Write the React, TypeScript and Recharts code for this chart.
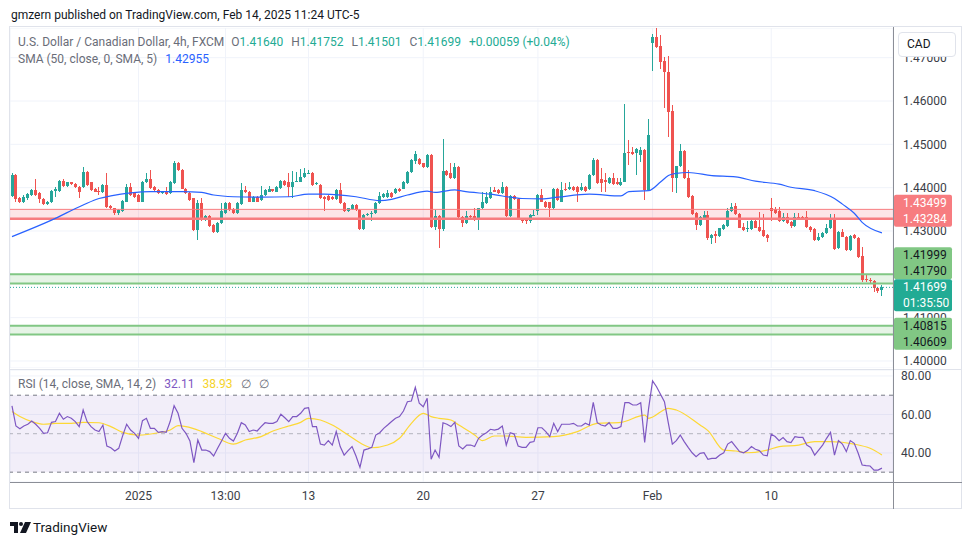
import React from 'react'
import {
  Bar,
  CartesianGrid,
  ComposedChart,
  Line,
  ReferenceArea,
  ReferenceLine,
  XAxis,
  YAxis,
} from 'recharts'

const FONT = 'Roboto, "Noto Sans", sans-serif'
const UP = '#26a69a'
const DOWN = '#ef5350'
const AXIS_TEXT = '#3b3e47'
const GRID = '#f0f3fa'

// USD/CAD 4h candles
const opens = [
  1.4381, 1.4429, 1.4377, 1.4367, 1.4375, 1.4383, 1.4395, 1.4388, 1.4373, 1.4362,
  1.4367, 1.4393, 1.4393, 1.4416, 1.4404, 1.4412, 1.4408, 1.4402, 1.4402, 1.4436,
  1.4412, 1.4398, 1.4393, 1.4389, 1.4406, 1.4358, 1.4352, 1.4341, 1.4345, 1.4368,
  1.4402, 1.4388, 1.4383, 1.4368, 1.4412, 1.4419, 1.4402, 1.4395, 1.4387, 1.4391,
  1.4387, 1.441, 1.4458, 1.4441, 1.4398, 1.4388, 1.4375, 1.4302, 1.4364, 1.4325,
  1.4335, 1.4314, 1.4298, 1.4318, 1.4342, 1.4365, 1.435, 1.4341, 1.4362, 1.4395,
  1.4391, 1.4368, 1.4378, 1.4372, 1.4383, 1.4391, 1.4396, 1.4391, 1.4399, 1.4416,
  1.4414, 1.4402, 1.4414, 1.4414, 1.4424, 1.4433, 1.4435, 1.4408, 1.4406, 1.4379,
  1.4381, 1.4379, 1.4373, 1.4395, 1.4365, 1.4345, 1.4351, 1.436, 1.4348, 1.4304,
  1.4337, 1.4339, 1.4341, 1.4365, 1.4379, 1.4379, 1.4387, 1.4388, 1.4398, 1.4398,
  1.441, 1.4437, 1.4462, 1.4466, 1.4456, 1.4447, 1.4475, 1.431, 1.4335, 1.4304,
  1.4438, 1.4433, 1.4422, 1.4448, 1.4333, 1.4318, 1.4335, 1.4335, 1.4325, 1.4352,
  1.4364, 1.4376, 1.4395, 1.4395, 1.4387, 1.4402, 1.4335, 1.4381, 1.4373, 1.4329,
  1.4325, 1.4322, 1.4336, 1.4345, 1.4383, 1.4368, 1.4366, 1.4352, 1.4398, 1.4368,
  1.4396, 1.4396, 1.4401, 1.4401, 1.4395, 1.4402, 1.4397, 1.443, 1.4464, 1.442,
  1.4418, 1.441, 1.4423, 1.4412, 1.4406, 1.4414, 1.4483, 1.4483, 1.4479, 1.4475,
  1.4487, 1.4395, 1.4733, 1.4748, 1.4728, 1.4692, 1.4666, 1.4577, 1.4422, 1.4449,
  1.4485, 1.4423, 1.4381, 1.4341, 1.4314, 1.4331, 1.4337, 1.4283, 1.4292, 1.4289,
  1.4305, 1.4312, 1.4345, 1.4358, 1.4339, 1.431, 1.4304, 1.4304, 1.4323, 1.431,
  1.4302, 1.4291, 1.4354, 1.435, 1.4345, 1.4323, 1.4333, 1.432, 1.4312, 1.4333,
  1.4332, 1.4333, 1.431, 1.4304, 1.4279, 1.4285, 1.4295, 1.4306, 1.4328, 1.426,
  1.4298, 1.4287, 1.4256, 1.4291, 1.4283, 1.4243, 1.4189, 1.4187, 1.4185, 1.4168,
  1.4164,
]

const highs = [
  1.4433, 1.4431, 1.4379, 1.4383, 1.4388, 1.4398, 1.4419, 1.439, 1.4375, 1.4369,
  1.4395, 1.4402, 1.4418, 1.4419, 1.4414, 1.4414, 1.441, 1.4404, 1.4448, 1.4438,
  1.4414, 1.44, 1.4402, 1.4408, 1.4433, 1.436, 1.4354, 1.435, 1.4371, 1.4408,
  1.441, 1.439, 1.4385, 1.4416, 1.4433, 1.4441, 1.4404, 1.4397, 1.4393, 1.4402,
  1.4416, 1.4461, 1.446, 1.4443, 1.44, 1.439, 1.4377, 1.4372, 1.4375, 1.4337,
  1.4337, 1.4316, 1.432, 1.4364, 1.4368, 1.4367, 1.4352, 1.4366, 1.441, 1.4404,
  1.4393, 1.438, 1.438, 1.4404, 1.4397, 1.4404, 1.4398, 1.4403, 1.4418, 1.4418,
  1.4435, 1.4439, 1.4437, 1.4442, 1.4445, 1.4441, 1.4437, 1.4413, 1.4408, 1.4381,
  1.4383, 1.4381, 1.4397, 1.441, 1.4367, 1.4354, 1.4362, 1.4362, 1.435, 1.4339,
  1.4341, 1.4345, 1.4367, 1.4391, 1.4387, 1.4395, 1.4389, 1.44, 1.44, 1.4416,
  1.4439, 1.4466, 1.4485, 1.4468, 1.4458, 1.4477, 1.4477, 1.4348, 1.4337, 1.4512,
  1.444, 1.4456, 1.4456, 1.445, 1.4335, 1.4347, 1.4337, 1.4352, 1.4354, 1.4391,
  1.4391, 1.4402, 1.4402, 1.4397, 1.4414, 1.4404, 1.4383, 1.4383, 1.4375, 1.4331,
  1.4327, 1.4339, 1.4348, 1.4385, 1.4398, 1.437, 1.4368, 1.44, 1.44, 1.4414,
  1.441, 1.4414, 1.4403, 1.4403, 1.441, 1.4404, 1.4432, 1.4468, 1.4466, 1.4445,
  1.4433, 1.4425, 1.4433, 1.4423, 1.4423, 1.4593, 1.451, 1.4495, 1.4491, 1.4495,
  1.4489, 1.4559, 1.4754, 1.4769, 1.4752, 1.4702, 1.4705, 1.4591, 1.4451, 1.4501,
  1.4487, 1.4441, 1.4383, 1.4343, 1.4335, 1.4345, 1.4345, 1.4293, 1.43, 1.4308,
  1.4316, 1.4352, 1.4364, 1.4364, 1.4341, 1.4318, 1.4322, 1.4325, 1.4329, 1.4343,
  1.4339, 1.4293, 1.4375, 1.4356, 1.4356, 1.4341, 1.4341, 1.4322, 1.4341, 1.4341,
  1.4334, 1.4345, 1.4312, 1.4306, 1.4295, 1.4297, 1.4315, 1.4339, 1.4339, 1.43,
  1.4305, 1.4289, 1.4291, 1.4293, 1.4285, 1.4262, 1.4199, 1.4191, 1.4187, 1.417,
  1.41752,
]

const lows = [
  1.4379, 1.4368, 1.4364, 1.4364, 1.4372, 1.438, 1.4381, 1.4364, 1.436, 1.436,
  1.4365, 1.4379, 1.4391, 1.4402, 1.4402, 1.4406, 1.4399, 1.4375, 1.44, 1.4404,
  1.4393, 1.4389, 1.4383, 1.4387, 1.4354, 1.435, 1.4338, 1.4338, 1.4343, 1.4366,
  1.4381, 1.4377, 1.4366, 1.4366, 1.441, 1.4398, 1.4393, 1.4385, 1.4385, 1.4383,
  1.4385, 1.4408, 1.4439, 1.4396, 1.4385, 1.437, 1.43, 1.4279, 1.4323, 1.4323,
  1.431, 1.4296, 1.4295, 1.4316, 1.434, 1.4346, 1.4339, 1.4339, 1.436, 1.4387,
  1.4366, 1.4366, 1.4366, 1.437, 1.4381, 1.4389, 1.4391, 1.4389, 1.4397, 1.4404,
  1.4379, 1.4375, 1.4412, 1.4412, 1.4422, 1.4431, 1.4404, 1.4406, 1.4373, 1.4345,
  1.437, 1.4371, 1.4371, 1.4362, 1.4343, 1.4343, 1.4349, 1.4346, 1.4302, 1.4302,
  1.4335, 1.4322, 1.4339, 1.4363, 1.4377, 1.4377, 1.4376, 1.4386, 1.4391, 1.4396,
  1.4408, 1.4435, 1.4455, 1.4453, 1.4446, 1.4445, 1.4308, 1.4302, 1.426, 1.43,
  1.4427, 1.442, 1.442, 1.433, 1.431, 1.4316, 1.433, 1.4323, 1.4302, 1.435,
  1.4362, 1.4374, 1.4389, 1.4385, 1.4385, 1.4333, 1.4333, 1.4371, 1.4327, 1.4318,
  1.4316, 1.4318, 1.4334, 1.4338, 1.4366, 1.4354, 1.4333, 1.435, 1.437, 1.4366,
  1.4392, 1.4394, 1.4393, 1.4368, 1.4393, 1.4391, 1.4395, 1.4428, 1.4408, 1.4391,
  1.4391, 1.4408, 1.4406, 1.4405, 1.4404, 1.4412, 1.4452, 1.4475, 1.443, 1.446,
  1.4372, 1.4393, 1.467, 1.4723, 1.4675, 1.4585, 1.4518, 1.4389, 1.4387, 1.4447,
  1.4421, 1.4377, 1.4337, 1.4302, 1.4312, 1.4329, 1.4279, 1.4269, 1.4272, 1.4287,
  1.4303, 1.431, 1.4343, 1.4337, 1.4306, 1.43, 1.4298, 1.4302, 1.4306, 1.4298,
  1.4287, 1.4274, 1.4322, 1.4339, 1.4321, 1.4321, 1.4316, 1.4306, 1.431, 1.4329,
  1.4329, 1.4308, 1.4298, 1.4277, 1.4277, 1.4283, 1.4293, 1.4304, 1.4256, 1.4258,
  1.4285, 1.4254, 1.4254, 1.4281, 1.4238, 1.4182, 1.4182, 1.418, 1.416, 1.4156,
  1.41501,
]

const closes = [
  1.4429, 1.4373, 1.4367, 1.4379, 1.4385, 1.4395, 1.4383, 1.4373, 1.4362, 1.4367,
  1.4392, 1.4398, 1.4416, 1.4404, 1.4412, 1.4408, 1.4401, 1.4391, 1.4436, 1.4406,
  1.4395, 1.4391, 1.4391, 1.4406, 1.4356, 1.4352, 1.4341, 1.4348, 1.4369, 1.4402,
  1.4383, 1.4379, 1.4368, 1.4414, 1.4419, 1.44, 1.4395, 1.4387, 1.4391, 1.4385,
  1.4414, 1.4458, 1.4441, 1.4398, 1.4387, 1.4372, 1.4302, 1.4364, 1.4325, 1.4335,
  1.4312, 1.4298, 1.4318, 1.4345, 1.4365, 1.4348, 1.4341, 1.4364, 1.4395, 1.4389,
  1.4368, 1.4378, 1.4368, 1.4383, 1.4395, 1.4397, 1.4393, 1.4401, 1.4416, 1.4406,
  1.4402, 1.4414, 1.4416, 1.4424, 1.4433, 1.4435, 1.4406, 1.4411, 1.4375, 1.4373,
  1.4372, 1.4373, 1.4395, 1.4364, 1.4345, 1.4352, 1.436, 1.4348, 1.4304, 1.4337,
  1.4339, 1.4342, 1.4365, 1.4381, 1.4385, 1.4387, 1.4378, 1.4398, 1.4393, 1.4414,
  1.4437, 1.4464, 1.4478, 1.4455, 1.4448, 1.4475, 1.431, 1.4335, 1.4304, 1.4438,
  1.4429, 1.4422, 1.4448, 1.4332, 1.4318, 1.4335, 1.4332, 1.4325, 1.4352, 1.4368,
  1.4379, 1.4391, 1.4391, 1.4387, 1.4401, 1.4335, 1.4381, 1.4373, 1.4329, 1.4322,
  1.4322, 1.4337, 1.4338, 1.4383, 1.4368, 1.4356, 1.4352, 1.4398, 1.4372, 1.4395,
  1.4394, 1.4402, 1.4395, 1.4391, 1.4402, 1.4393, 1.443, 1.4464, 1.441, 1.441,
  1.4414, 1.4423, 1.4408, 1.4408, 1.4414, 1.4481, 1.4479, 1.4477, 1.4489, 1.4487,
  1.4395, 1.4522, 1.4748, 1.4725, 1.4691, 1.4666, 1.4575, 1.4422, 1.4449, 1.4485,
  1.4423, 1.4379, 1.4339, 1.4314, 1.4333, 1.4337, 1.4283, 1.4291, 1.4289, 1.4306,
  1.4314, 1.4345, 1.4356, 1.4339, 1.4308, 1.4302, 1.4306, 1.4323, 1.4308, 1.43,
  1.4289, 1.4283, 1.4346, 1.4341, 1.4323, 1.4333, 1.4318, 1.4312, 1.4333, 1.4331,
  1.4331, 1.431, 1.4302, 1.4279, 1.4287, 1.4295, 1.4306, 1.4328, 1.4259, 1.4298,
  1.4287, 1.4256, 1.4289, 1.4283, 1.424, 1.4187, 1.4186, 1.4185, 1.4168, 1.4162,
  1.41699,
]

// SMA(50) points (candle index, value)
const smaIdx = [
  0, 10, 18, 22, 25, 30, 35, 43, 48, 51, 56, 63, 70, 75, 79, 87, 93, 96, 100, 105,
  107, 112, 114, 121, 129, 134, 138, 146, 154, 156, 161, 164, 166, 168, 171, 177, 183, 188, 194, 197,
  203, 208, 210, 213, 215, 220,
]
const smaVal = [
  1.4287, 1.4325, 1.436, 1.4375, 1.4381, 1.4388, 1.4391, 1.4391, 1.4389, 1.4383,
  1.4379, 1.4378, 1.4379, 1.4385, 1.4385, 1.4379, 1.437, 1.4373, 1.4383, 1.4392,
  1.4389, 1.4395, 1.4392, 1.4385, 1.4375, 1.4374, 1.4378, 1.4385, 1.4381, 1.4391,
  1.4393, 1.4413, 1.4428, 1.4433, 1.4435, 1.4428, 1.4425, 1.4415, 1.4408, 1.4401,
  1.4393, 1.4375, 1.4362, 1.4341, 1.432, 1.42955,
]

// RSI(14), one value per candle
const rsi = [
  64.4, 54, 52.6, 54, 54.9, 56.6, 54.9, 52.8, 50.2, 50.5,
  55.9, 56.3, 60.6, 57.5, 58.9, 58, 56.3, 53.7, 62.3, 56.3,
  53.7, 51.9, 51.1, 54.5, 43.6, 42.7, 41, 42.4, 49, 54.9,
  51.9, 50.2, 47.6, 56.8, 58, 52.8, 52.8, 50.7, 51.1, 50.7,
  56.3, 64.6, 60.6, 52.8, 50.2, 46.2, 35, 46.7, 41.5, 41.5,
  40.7, 38.4, 42.4, 46.2, 50.2, 47.6, 46.2, 50.2, 55.7, 54.5,
  51.1, 51.9, 51.4, 53.7, 55.7, 55.4, 55.4, 56.3, 60.1, 58.3,
  56.3, 58.9, 58.9, 60.6, 63.2, 63.5, 53.7, 53.7, 44.6, 44.1,
  46.4, 44.1, 51.1, 43.3, 38.9, 41.2, 43.3, 38.4, 32.5, 41.5,
  42.1, 42.9, 49.3, 50.5, 52.8, 54.5, 56.3, 58, 58.9, 61.8,
  66.6, 67, 74.1, 65.8, 64, 68.4, 36.7, 41.5, 37.7, 55.7,
  54.9, 53.7, 55.9, 43.6, 42.1, 44.1, 44.1, 43.3, 47.6, 49.3,
  50.5, 52.3, 51.9, 52.4, 54, 44.1, 50.5, 49.8, 43.6, 42.9,
  42.9, 45.5, 45.9, 53.1, 53.1, 51.1, 48.5, 55.4, 51.1, 54.9,
  54.9, 54.9, 55.4, 54, 54, 55.4, 54.5, 66.3, 55.7, 54.5,
  54, 55.7, 52.8, 52.8, 53.7, 66.1, 66.1, 64.9, 64.9, 66.1,
  45.5, 63.2, 77.4, 74.4, 70.5, 66.6, 55.4, 44.6, 46.4, 49.3,
  45.9, 42.9, 40.1, 38.1, 39.8, 40.1, 36.7, 37.2, 37.2, 38.9,
  40.1, 44.6, 45.9, 43.3, 40.7, 40.1, 41.2, 43.3, 41.9, 41.2,
  38.9, 38.5, 49.7, 48.5, 46.4, 48, 45.9, 45.4, 48.5, 48.1,
  48.1, 44.1, 42.9, 38.9, 41.5, 44.1, 47.6, 50.7, 38.9, 46.4,
  44.6, 40.7, 46.4, 45, 39.8, 33.7, 33.4, 33.2, 31.1, 31.1,
  32.11,
]

// RSI-based SMA points (candle index, value)
const rsiMaIdx = [
  0, 2, 5, 8, 11, 15, 18, 22, 25, 28, 32, 37, 40, 42, 44, 48, 52, 56, 59, 63,
  66, 70, 73, 75, 78, 81, 85, 89, 91, 95, 98, 101, 104, 106, 108, 111, 113, 117, 119, 122,
  125, 130, 137, 143, 148, 154, 160, 161, 166, 168, 174, 176, 180, 183, 186, 191, 194, 199, 203, 207,
  213, 217, 220,
]
const rsiMaVal = [
  61.5, 58.9, 56.3, 54.9, 55.4, 55.4, 55.9, 55.7, 53.7, 50.7, 49.3, 50.5, 51.9, 54.2, 53.7, 51.1, 47.6, 44.6, 46.7, 48.5,
  51.4, 54, 55.9, 58, 57.1, 54.5, 49.3, 44.1, 42.7, 44.1, 47.6, 55.4, 60.6, 58.9, 58, 57.1, 54.5, 49.3, 46.4, 48.8,
  48.8, 48.1, 48.5, 51.1, 55.4, 55.9, 59.7, 58, 63.2, 62.3, 54.5, 51.6, 41.5, 41, 40.1, 41.5, 43.3, 44.1, 45.9, 45.9,
  44.6, 42.4, 38.93,
]

// 1.42000 sits fully under the support tag, so it is left out
const priceTicks = [1.4, 1.41, 1.43, 1.44, 1.45, 1.46, 1.47]
const rsiTicks = [40, 60, 80]
const timeTickIdx = [32, 54, 75, 104, 133, 162, 192]
const timeTickLabels = ['2025', '13:00', '13', '20', '27', 'Feb', '10']

const resistance = [1.43284, 1.43499]
const supportHigh = [1.4179, 1.41999]
const supportLow = [1.40609, 1.40815]
const lastPrice = 1.41699
const countdown = '01:35:50'

const rows = opens.map((o, i) => {
  const s = smaIdx.indexOf(i)
  const m = rsiMaIdx.indexOf(i)
  return {
    i,
    o,
    h: highs[i],
    l: lows[i],
    c: closes[i],
    range: [lows[i], highs[i]],
    sma: s >= 0 ? smaVal[s] : null,
    rsi: rsi[i],
    rsiMa: m >= 0 ? rsiMaVal[m] : null,
  }
})

const xDomain: [number, number] = [-0.5, 222.8]
const priceDomain: [number, number] = [1.39838, 1.47685]

function Candle(props: any) {
  const { x, y, width, height, payload } = props
  if (x == null || y == null || !payload) return null
  const top = Math.min(y, y + height)
  const span = Math.abs(height)
  const { o, h, l, c } = payload
  const py = (v: number) => (h === l ? top : top + ((h - v) / (h - l)) * span)
  const color = c >= o ? UP : DOWN
  const cx = Math.round(x + width / 2)
  const bTop = py(Math.max(o, c))
  const bBot = py(Math.min(o, c))
  return (
    <g shapeRendering="crispEdges">
      <rect x={cx} y={top} width={1} height={Math.max(1, span)} fill={color} />
      <rect x={cx - 1} y={bTop} width={3} height={Math.max(1, bBot - bTop)} fill={color} />
    </g>
  )
}

const ROW = 16

function TagBox({ left, top, rows: texts, bg, fg }: any) {
  return (
    <g>
      <rect x={left + 1} y={top} width={58} height={texts.length * ROW} rx={2} fill={bg} />
      {texts.map((t: string, k: number) => (
        <text
          key={k}
          x={left + 10}
          y={top + ROW * k + ROW / 2}
          dominantBaseline="central"
          fill={fg}
          fontSize={12}
          fontFamily={FONT}
        >
          {t}
        </text>
      ))}
    </g>
  )
}

// tag anchored on a price; anchorRow says which row sits on the line
function tagLabel(texts: string[], bg: string, fg: string, anchorRow: number) {
  return (props: any) => {
    const vb = props.viewBox
    if (!vb) return null
    const left = vb.x + vb.width
    const top = vb.y - ROW / 2 - anchorRow * ROW
    return <TagBox left={left} top={top} rows={texts} bg={bg} fg={fg} />
  }
}

// live price tag plus the support tag stacked just above it
function lastPriceLabel(props: any) {
  const vb = props.viewBox
  if (!vb) return null
  const left = vb.x + vb.width
  const top = vb.y - ROW / 2
  return (
    <g>
      <TagBox
        left={left}
        top={top - 2 * ROW}
        rows={[supportHigh[1].toFixed(5), supportHigh[0].toFixed(5)]}
        bg="#81c784"
        fg="#131722"
      />
      <TagBox left={left} top={top} rows={[lastPrice.toFixed(5), countdown]} bg="#22ab94" fg="#ffffff" />
    </g>
  )
}

const tickStyle = { fill: AXIS_TEXT, fontSize: 12, fontFamily: FONT }
const noMargin = { top: 0, right: 0, bottom: 0, left: 0 }

function PricePane() {
  return (
    <ComposedChart width={952} height={340} data={rows} margin={noMargin}>
      <CartesianGrid stroke={GRID} />
      <XAxis dataKey="i" type="number" domain={xDomain} ticks={timeTickIdx} allowDataOverflow hide />
      <YAxis
        orientation="right"
        width={69}
        domain={priceDomain}
        ticks={priceTicks}
        interval={0}
        allowDataOverflow
        axisLine={false}
        tickLine={false}
        tickSize={0}
        tickMargin={10}
        tick={tickStyle}
        tickFormatter={(v: number) => v.toFixed(5)}
      />
      <ReferenceArea y1={resistance[0]} y2={resistance[1]} fill="#f23645" fillOpacity={0.13} stroke="none" />
      <ReferenceLine y={resistance[1]} stroke="#f77c80" strokeWidth={1} />
      <ReferenceLine y={resistance[0]} stroke="#f77c80" strokeWidth={2.5} />
      <ReferenceArea y1={supportHigh[0]} y2={supportHigh[1]} fill="#4caf50" fillOpacity={0.14} stroke="none" />
      <ReferenceLine y={supportHigh[1]} stroke="#81c784" strokeWidth={2} />
      <ReferenceLine y={supportHigh[0]} stroke="#81c784" strokeWidth={2} />
      <ReferenceArea y1={supportLow[0]} y2={supportLow[1]} fill="#4caf50" fillOpacity={0.14} stroke="none" />
      <ReferenceLine y={supportLow[1]} stroke="#81c784" strokeWidth={2} />
      <ReferenceLine y={supportLow[0]} stroke="#81c784" strokeWidth={2} />
      <ReferenceLine y={lastPrice} stroke={UP} strokeDasharray="1 2" />
      <Bar dataKey="range" barSize={3} shape={<Candle />} isAnimationActive={false} />
      <Line
        dataKey="sma"
        type="monotone"
        connectNulls
        dot={false}
        stroke="#2962ff"
        strokeWidth={1.2}
        isAnimationActive={false}
      />
    </ComposedChart>
  )
}

// same scales as the price pane, drawn on top so the tags cover the axis labels
function PriceTags() {
  return (
    <ComposedChart width={952} height={340} data={rows} margin={noMargin}>
      <XAxis dataKey="i" type="number" domain={xDomain} allowDataOverflow hide />
      <YAxis orientation="right" width={69} domain={priceDomain} allowDataOverflow axisLine={false} tickLine={false} tick={false} />
      <ReferenceLine
        y={resistance[0]}
        stroke="none"
        label={tagLabel([resistance[1].toFixed(5), resistance[0].toFixed(5)], '#f77c80', '#ffffff', 1)}
      />
      <ReferenceLine
        y={supportLow[1]}
        stroke="none"
        label={tagLabel([supportLow[1].toFixed(5), supportLow[0].toFixed(5)], '#81c784', '#131722', 0)}
      />
      <ReferenceLine y={lastPrice} stroke="none" label={lastPriceLabel} />
    </ComposedChart>
  )
}

function RsiPane() {
  return (
    <ComposedChart width={952} height={139} data={rows} margin={noMargin}>
      <CartesianGrid stroke={GRID} />
      <XAxis
        dataKey="i"
        type="number"
        domain={xDomain}
        ticks={timeTickIdx}
        interval={0}
        allowDataOverflow
        height={27}
        axisLine={false}
        tickLine={false}
        tickSize={0}
        tickMargin={9}
        tick={tickStyle}
        tickFormatter={(v: number) => timeTickLabels[timeTickIdx.indexOf(v)] ?? ''}
      />
      <YAxis
        orientation="right"
        width={69}
        domain={[24.9, 83.1]}
        ticks={rsiTicks}
        interval={0}
        allowDataOverflow
        axisLine={false}
        tickLine={false}
        tickSize={0}
        tickMargin={8}
        tick={tickStyle}
        tickFormatter={(v: number) => v.toFixed(2)}
      />
      <ReferenceArea y1={30} y2={70} fill="#7e57c2" fillOpacity={0.1} stroke="none" />
      <ReferenceLine y={70} stroke="#787b86" strokeDasharray="4 4" />
      <ReferenceLine y={50} stroke="#787b86" strokeOpacity={0.5} strokeDasharray="4 4" />
      <ReferenceLine y={30} stroke="#787b86" strokeDasharray="4 4" />
      <Line
        dataKey="rsiMa"
        type="monotone"
        connectNulls
        dot={false}
        stroke="#fdd835"
        strokeWidth={1.2}
        isAnimationActive={false}
      />
      <Line dataKey="rsi" type="linear" dot={false} stroke="#7e57c2" strokeWidth={1.2} isAnimationActive={false} />
    </ComposedChart>
  )
}

const legendGray = '#6a6d78'
const valGreen = '#22ab94'

function Ohlc({ k, v, first }: { k: string; v: string; first?: boolean }) {
  return (
    <span style={{ marginLeft: first ? 7 : 8 }}>
      <span style={{ color: legendGray }}>{k}</span>
      <span style={{ color: valGreen }}>{v}</span>
    </span>
  )
}

export default function App() {
  return (
    <div
      style={{
        position: 'absolute',
        left: 0,
        top: 0,
        width: 970,
        height: 545,
        background: '#ffffff',
        fontFamily: FONT,
        overflow: 'hidden',
      }}
    >
      <div style={{ position: 'absolute', left: 11, top: 6, fontSize: 12, lineHeight: '18px', color: '#131722', whiteSpace: 'nowrap' }}>
        gmzern published on TradingView.com, Feb 14, 2025 11:24 UTC-5
      </div>

      <div
        style={{
          position: 'absolute',
          left: 9,
          top: 26,
          width: 953,
          height: 483,
          border: '1px solid #e0e3eb',
          boxSizing: 'border-box',
        }}
      />

      <div style={{ position: 'absolute', left: 10, top: 28 }}>
        <PricePane />
      </div>
      <div style={{ position: 'absolute', left: 10, top: 369, width: 952, height: 1, background: '#e0e3eb' }} />
      <div style={{ position: 'absolute', left: 10, top: 370 }}>
        <RsiPane />
      </div>

      {/* scale borders */}
      <div style={{ position: 'absolute', left: 893, top: 27, width: 1, height: 482, background: '#8b8e97' }} />
      <div style={{ position: 'absolute', left: 10, top: 482, width: 952, height: 1, background: '#8b8e97' }} />

      <div style={{ position: 'absolute', left: 10, top: 28, pointerEvents: 'none' }}>
        <PriceTags />
      </div>

      {/* legends */}
      <div style={{ position: 'absolute', left: 18, top: 34, fontSize: 12, lineHeight: '17px', whiteSpace: 'nowrap', color: legendGray }}>
        U.S. Dollar / Canadian Dollar, 4h, FXCM
        <Ohlc k="O" v={opens[opens.length - 1].toFixed(5)} first />
        <Ohlc k="H" v={highs[highs.length - 1].toFixed(5)} />
        <Ohlc k="L" v={lows[lows.length - 1].toFixed(5)} />
        <Ohlc k="C" v={closes[closes.length - 1].toFixed(5)} />
        <span style={{ marginLeft: 8, color: valGreen }}>+0.00059 (+0.04%)</span>
      </div>
      <div style={{ position: 'absolute', left: 18, top: 51, fontSize: 12, lineHeight: '17px', whiteSpace: 'nowrap', color: legendGray }}>
        SMA (50, close, 0, SMA, 5)
        <span style={{ marginLeft: 8, color: '#2962ff' }}>{smaVal[smaVal.length - 1].toFixed(5)}</span>
      </div>
      <div style={{ position: 'absolute', left: 18, top: 376, fontSize: 12, lineHeight: '17px', whiteSpace: 'nowrap', color: legendGray }}>
        RSI (14, close, SMA, 14, 2)
        <span style={{ marginLeft: 8, color: '#7e57c2' }}>{rsi[rsi.length - 1].toFixed(2)}</span>
        <span style={{ marginLeft: 8, color: '#f5d329' }}>{rsiMaVal[rsiMaVal.length - 1].toFixed(2)}</span>
        <span style={{ marginLeft: 8 }}>∅</span>
        <span style={{ marginLeft: 8 }}>∅</span>
      </div>

      {/* currency box */}
      <div
        style={{
          position: 'absolute',
          left: 898,
          top: 32,
          width: 58,
          height: 25,
          boxSizing: 'border-box',
          border: '1px solid #e0e3eb',
          borderRadius: 4,
          background: '#ffffff',
          fontSize: 12,
          lineHeight: '23px',
          paddingLeft: 8,
          color: '#131722',
        }}
      >
        CAD
      </div>

      {/* footer logo */}
      <svg style={{ position: 'absolute', left: 10, top: 522 }} width={21} height={11} viewBox="0 0 21 11">
        <path d="M0 0 H8 V11 H4 V4 H0 Z" fill="#131722" />
        <circle cx={11} cy={2} r={2} fill="#131722" />
        <path d="M15 0 H21 L16 11 H10 Z" fill="#131722" />
      </svg>
      <div style={{ position: 'absolute', left: 33, top: 518, fontSize: 13.5, lineHeight: '18px', color: '#131722' }}>
        TradingView
      </div>
    </div>
  )
}
